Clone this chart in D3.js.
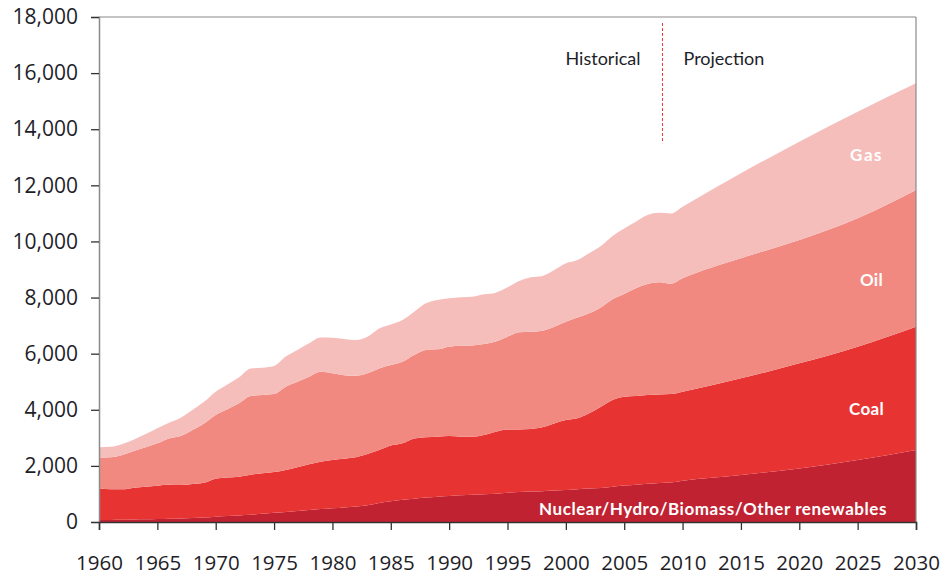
<!DOCTYPE html>
<html>
<head>
<meta charset="utf-8">
<script src="https://cdn.jsdelivr.net/npm/d3@7"></script>
<style>
  html, body { margin: 0; padding: 0; background: #fff; }
  svg { display: block; }
</style>
</head>
<body>
<svg id="chart" width="943" height="575"></svg>
<script>
// ---- Data (Mtoe, world primary energy demand) ----
const years = [1960,1961,1962,1963,1964,1965,1966,1967,1968,1969,
  1970,1971,1972,1973,1974,1975,1976,1977,1978,1979,
  1980,1981,1982,1983,1984,1985,1986,1987,1988,1989,
  1990,1991,1992,1993,1994,1995,1996,1997,1998,1999,
  2000,2001,2002,2003,2004,2005,2006,2007,2008,2009,
  2010,2015,2020,2025,2030];

const nuclearHydro = [70,75,80,90,95,105,115,125,140,160,
  190,210,235,260,290,330,360,395,430,460,
  490,520,550,600,680,740,790,830,870,900,
  925,950,970,990,1010,1045,1070,1085,1100,1120,
  1140,1170,1190,1210,1260,1300,1330,1360,1390,1410,
  1470,1675,1910,2210,2570];

const coal = [1130,1090,1085,1135,1165,1190,1215,1195,1215,1240,
  1355,1380,1380,1425,1445,1450,1495,1555,1625,1690,
  1720,1735,1755,1825,1885,1985,2015,2150,2150,2140,
  2140,2090,2070,2110,2210,2255,2230,2230,2275,2395,
  2495,2525,2685,2900,3090,3165,3160,3165,3155,3150,
  3175,3445,3745,4040,4390];

const oil = [1095,1140,1225,1305,1400,1510,1650,1745,1925,2115,
  2270,2425,2615,2805,2790,2780,2970,3050,3125,3205,
  3090,2980,2910,2875,2910,2870,2910,2970,3110,3115,
  3185,3245,3255,3245,3210,3305,3460,3470,3445,3445,
  3505,3590,3565,3540,3590,3660,3840,3955,4000,3930,
  4040,4280,4395,4575,4870];

const gas = [370,375,390,415,475,535,560,655,715,770,
  830,890,930,985,975,1000,1070,1130,1190,1225,
  1270,1285,1270,1305,1425,1445,1485,1545,1665,1760,
  1725,1725,1735,1770,1745,1760,1830,1935,1950,2020,
  2080,2055,2140,2185,2255,2340,2375,2460,2475,2505,
  2555,3030,3505,3800,3805];

const seriesKeys = ["nuclearHydro", "coal", "oil", "gas"];
const seriesLabels = ["Nuclear/Hydro/Biomass/Other renewables", "Coal", "Oil", "Gas"];
const seriesColors = ["#c12232", "#e83333", "#f28981", "#f6bebb"];

const yTicks = [0,2000,4000,6000,8000,10000,12000,14000,16000,18000];
const xTicks = [1960,1965,1970,1975,1980,1985,1990,1995,2000,2005,2010,2015,2020,2025,2030];
const splitYear = 2008.2;
const splitTopValue = 13500;
const periodLabels = ["Historical", "Projection"];

// ---- Build table ----
const table = years.map((y, i) => ({
  year: y, nuclearHydro: nuclearHydro[i], coal: coal[i], oil: oil[i], gas: gas[i]
}));

const svg = d3.select("#chart");
const margin = {left: 99, right: 27, top: 17, bottom: 53};
const W = 943, H = 575;
const x = d3.scaleLinear().domain([1960, 2030]).range([margin.left, W - margin.right]);
const y = d3.scaleLinear().domain([0, 18000]).range([H - margin.bottom, margin.top]);

const stacked = d3.stack().keys(seriesKeys)(table);

const area = d3.area()
  .x(d => x(d.data.year))
  .y0(d => y(d[0]))
  .y1(d => y(d[1]))
  .curve(d3.curveMonotoneX);

svg.append("g").selectAll("path")
  .data(stacked)
  .join("path")
  .attr("d", area)
  .attr("fill", (d, i) => seriesColors[i]);

// Frame: top and right lines
const frameColor = "#8a8a8a";
svg.append("line")
  .attr("x1", x(1960)).attr("x2", x(2030))
  .attr("y1", y(18000)).attr("y2", y(18000))
  .attr("stroke", frameColor).attr("stroke-width", 1.2);
svg.append("line")
  .attr("x1", x(2030)).attr("x2", x(2030))
  .attr("y1", y(18000)).attr("y2", y(0))
  .attr("stroke", frameColor).attr("stroke-width", 1.2);

const numFont = "'Open Sans', Lato, sans-serif";
const fontFam = "Lato, 'Open Sans', sans-serif";

// Y axis
const yAxis = svg.append("g")
  .attr("transform", `translate(${x(1960)},0)`)
  .call(d3.axisLeft(y).tickValues(yTicks).tickSize(8).tickPadding(13)
    .tickFormat(d3.format(",")));
yAxis.select(".domain").attr("stroke", frameColor).attr("stroke-width", 1.5);
yAxis.selectAll(".tick line").attr("stroke", "#333").attr("stroke-width", 1.3);
yAxis.selectAll(".tick text")
  .attr("font-family", numFont).attr("font-size", 21).attr("fill", "#1e1e28");

// X axis
const xAxis = svg.append("g")
  .attr("transform", `translate(0,${y(0)})`)
  .call(d3.axisBottom(x).tickValues(xTicks).tickSize(8).tickPadding(25)
    .tickFormat(d3.format("d")));
xAxis.select(".domain").attr("stroke", "#333").attr("stroke-width", 1.5);
xAxis.selectAll(".tick line").attr("stroke", "#333").attr("stroke-width", 1.3);
xAxis.selectAll(".tick text")
  .attr("font-family", numFont).attr("font-size", 20.5).attr("fill", "#1e1e28");

// Historical / Projection divider
const sx = Math.round(x(splitYear)) + 0.5;
svg.append("line")
  .attr("x1", sx).attr("x2", sx)
  .attr("y1", 23).attr("y2", y(splitTopValue))
  .attr("stroke", "#f03a3a").attr("stroke-width", 1)
  .attr("stroke-dasharray", "3,2");

svg.append("text")
  .attr("x", sx - 22).attr("y", 65)
  .attr("text-anchor", "end")
  .attr("font-family", fontFam).attr("font-size", 18).attr("fill", "#1e1e28")
  .text(periodLabels[0]);
svg.append("text")
  .attr("x", sx + 21).attr("y", 65)
  .attr("text-anchor", "start")
  .attr("font-family", fontFam).attr("font-size", 18).attr("fill", "#1e1e28")
  .text(periodLabels[1]);

// Series labels
const labelPos = [
  {i: 0, base: 515, right: 887, ls: 0.55},
  {i: 1, base: 415, right: 884, ls: 0.3},
  {i: 2, base: 286, right: 883, ls: 0.3},
  {i: 3, base: 161, right: 883, ls: 1.5}
];
svg.append("g").selectAll("text")
  .data(labelPos)
  .join("text")
  .attr("x", d => d.right)
  .attr("y", d => d.base)
  .attr("text-anchor", "end")
  .attr("font-family", fontFam)
  .attr("font-weight", "bold")
  .attr("font-size", 17)
  .attr("letter-spacing", d => d.ls)
  .attr("fill", "#fff")
  .text(d => seriesLabels[d.i]);
</script>
</body>
</html>
